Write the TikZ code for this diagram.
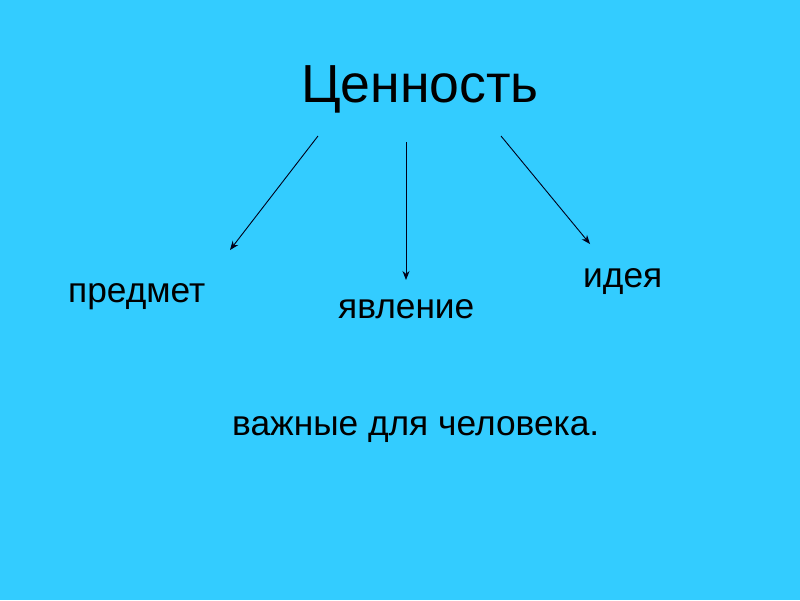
\documentclass[tikz,border=0pt]{standalone}
\usepackage{fontspec}
\setmainfont{Liberation Sans}
\usetikzlibrary{arrows.meta}
\definecolor{bg}{HTML}{33CCFF}
\begin{document}
\begin{tikzpicture}[x=1pt,y=-1pt,
  lbl/.style={inner sep=0pt,anchor=base west,font=\fontsize{35.3}{42}\selectfont},
  conn/.style={line width=0.9pt,draw=black!90!blue,-{Stealth[length=9pt,width=7pt]}}]
\fill[bg] (0,0) rectangle (800,600);
\useasboundingbox (0,0) rectangle (800,600);
\node[inner sep=0pt,anchor=base] (title) at (420,102) {\fontsize{53.6}{62}\selectfont Ценность};
\node[lbl] (p) at (68,302) {предмет};
\node[lbl] (ya) at (338,318) {явление};
\node[lbl] (id) at (583,287) {идея};
\node[lbl] (imp) at (232,435) {важные для человека.};
\coordinate (s1) at (318,136);
\coordinate (e1) at (230,250);
\coordinate (s2) at (406,142);
\coordinate (e2) at (406,280);
\coordinate (s3) at (501,136);
\coordinate (e3) at (590,244);
\draw[conn] (s1) -- (e1);
\draw[conn] (s2) -- (e2);
\draw[conn] (s3) -- (e3);
\end{tikzpicture}
\end{document}
